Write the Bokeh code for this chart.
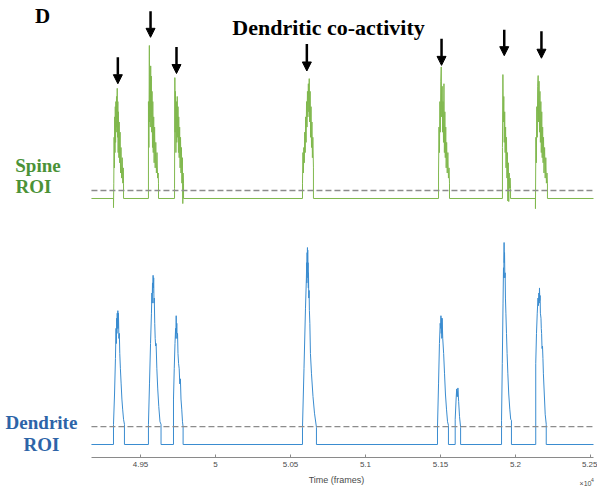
from bokeh.plotting import figure
from bokeh.models import Range1d, FixedTicker, Label, Arrow, NormalHead, ColumnDataSource
from bokeh.embed import file_html
from bokeh.resources import INLINE

# ---------------- data ----------------
x_min, x_max = 49173, 52520
tick_values = [49500, 50000, 50500, 51000, 51500, 52000, 52500]
tick_labels = ["4.95", "5", "5.05", "5.1", "5.15", "5.2", "5.25"]

spine_threshold = 0.157
dend_threshold = 0.356

# spine ROI trace (frame, value)
spine_trace = [
    (49173, 0),
    # event 1
    (49320, 0), (49320, -0.18), (49322, 0.3), (49324, 1.2), (49326, 0.6), (49328, 1.6), (49330, 0.9),
    (49332, 1.8), (49334, 1.1), (49336, 1.9), (49338, 1.3), (49340, 2.0), (49342, 1.4), (49345, 2.16),
    (49347, 1.2), (49349, 1.9), (49351, 0.9), (49353, 1.7), (49356, 0.8), (49358, 1.5), (49361, 0.7),
    (49364, 1.3), (49367, 0.5), (49370, 1.0), (49374, 0.4), (49378, 0.8), (49382, 0.3), (49385, 0.6),
    (49387, 0.3), (49387, 0),
    # event 2
    (49553, 0), (49553, 1.9), (49556, 1.0), (49559, 3.0), (49561, 1.5), (49563, 2.2), (49565, 1.4),
    (49568, 2.6), (49570, 1.6), (49572, 2.4), (49575, 1.3), (49577, 2.1), (49580, 1.0), (49582, 1.9),
    (49585, 0.9), (49588, 1.6), (49591, 0.7), (49594, 1.4), (49598, 0.6), (49602, 1.1), (49606, 0.5),
    (49610, 0.9), (49614, 0.4), (49618, 0.5), (49620, 0.3), (49620, 0),
    # event 3
    (49727, 0), (49727, 0.2), (49729, 2.37), (49731, 1.3), (49733, 2.1), (49736, 0.9), (49739, 1.9),
    (49742, 1.1), (49745, 2.0), (49748, 1.2), (49750, 1.8), (49753, 0.9), (49755, 1.6), (49758, 0.8),
    (49761, 1.4), (49764, 0.6), (49767, 1.2), (49770, 0.5), (49773, 1.0), (49776, 0.3), (49779, 0.8),
    (49782, -0.1), (49784, 0.5), (49787, 0.3), (49787, 0),
    # event 4
    (50580, 0), (50580, 0.3), (50583, 0.9), (50586, 0.5), (50589, 1.0), (50592, 0.7), (50595, 1.3),
    (50598, 0.9), (50601, 1.6), (50604, 1.1), (50607, 1.9), (50610, 1.4), (50613, 2.1), (50616, 1.6),
    (50619, 2.25), (50622, 1.7), (50625, 2.35), (50628, 1.5), (50631, 2.1), (50634, 1.2), (50637, 1.8),
    (50640, 1.0), (50643, 1.5), (50646, 0.8), (50649, 1.2), (50653, 0.6), (50653, 0),
    # event 5
    (51487, 0), (51487, 0.5), (51490, 1.4), (51493, 0.9), (51496, 1.9), (51499, 1.3), (51502, 2.3),
    (51505, 2.58), (51508, 1.6), (51511, 2.2), (51514, 1.3), (51517, 1.9), (51520, 1.1), (51523, 2.25),
    (51526, 0.9), (51529, 1.7), (51532, 0.8), (51535, 1.4), (51538, 0.6), (51541, 1.1), (51545, 0.5),
    (51549, 0.9), (51553, 0.4), (51557, 0.6), (51560, 0.3), (51560, 0),
    # event 6
    (51913, 0), (51913, 1.0), (51916, 2.43), (51919, 1.5), (51922, 2.0), (51925, 1.1), (51928, 1.7),
    (51931, 0.9), (51934, 1.4), (51937, 0.6), (51940, 1.2), (51943, 0.4), (51946, 0.9), (51949, -0.05),
    (51952, 0.7), (51955, -0.06), (51958, 0.5), (51961, 0.2), (51964, 0.4), (51967, 0.2), (51967, 0),
    # event 7
    (52133, 0), (52133, -0.2), (52136, 1.2), (52139, 0.7), (52142, 1.8), (52145, 1.2), (52148, 2.2),
    (52151, 2.41), (52154, 1.5), (52157, 2.3), (52160, 1.3), (52163, 2.1), (52166, 1.1), (52169, 1.9),
    (52172, 0.9), (52175, 1.7), (52178, 0.8), (52181, 1.4), (52184, 0.7), (52187, 1.2), (52190, 0.5),
    (52194, 1.0), (52198, 0.4), (52202, 0.8), (52206, 0.3), (52210, 0.5), (52213, 0.3), (52213, 0),
    (52520, 0),
]

# dendrite ROI trace (frame, value)
dend_trace = [
    (49173, 0),
    # event 1
    (49320, 0), (49320, 0.4), (49327, 1.0), (49333, 1.7), (49337, 2.3), (49339, 2.0), (49341, 2.5),
    (49343, 2.2), (49345, 2.6), (49347, 2.3), (49349, 2.65), (49351, 2.3), (49353, 2.6), (49356, 2.1),
    (49359, 2.2), (49362, 1.8), (49366, 1.5), (49371, 1.2), (49376, 0.9), (49381, 0.7), (49387, 0.5),
    (49393, 0.4), (49393, 0),
    # event 2
    (49553, 0), (49553, 0.4), (49560, 1.2), (49567, 2.0), (49573, 2.6), (49576, 3.0), (49578, 2.8),
    (49580, 3.2), (49582, 3.0), (49584, 3.35), (49586, 3.1), (49588, 3.3), (49590, 2.8), (49592, 2.9),
    (49595, 2.4), (49598, 2.1), (49601, 1.95), (49604, 2.0), (49609, 1.5), (49615, 1.1), (49622, 0.75),
    (49630, 0.45), (49637, 0.4), (49637, 0),
    # event 3
    (49720, 0), (49720, 0.9), (49725, 1.5), (49730, 2.0), (49734, 2.3), (49736, 2.1), (49738, 2.55),
    (49740, 2.2), (49742, 2.4), (49744, 2.1), (49747, 2.2), (49750, 1.8), (49754, 1.6), (49758, 1.5),
    (49762, 1.2), (49766, 1.3), (49770, 0.9), (49775, 0.7), (49780, 0.45), (49784, 0.35), (49784, 0),
    # event 4
    (50580, 0), (50580, 0.34), (50590, 1.5), (50600, 2.7), (50606, 3.3), (50608, 3.6), (50609, 3.2),
    (50611, 3.8), (50612, 3.4), (50613, 3.9), (50614, 3.5), (50615, 3.85), (50616, 3.3), (50617, 3.6),
    (50619, 3.1), (50620, 3.4), (50622, 2.9), (50624, 3.05), (50626, 2.65), (50629, 2.4), (50633, 1.8),
    (50640, 1.4), (50650, 0.95), (50660, 0.62), (50673, 0.34), (50673, 0),
    # event 5
    (51480, 0), (51480, 0.35), (51487, 1.2), (51493, 2.0), (51498, 2.4), (51501, 2.3), (51503, 2.55),
    (51505, 2.2), (51507, 2.5), (51509, 2.1), (51511, 2.5), (51515, 2.1), (51521, 1.8), (51527, 1.4),
    (51533, 1.0), (51540, 0.7), (51547, 0.45), (51553, 0.38), (51553, 0),
    # event 6
    (51598, 0), (51598, 0.5), (51604, 0.9), (51608, 1.1), (51610, 0.95), (51612, 1.05), (51614, 0.95),
    (51616, 1.12), (51621, 0.85), (51627, 0.55), (51634, 0.34), (51634, 0),
    # event 7
    (51907, 0), (51907, 0.48), (51912, 1.6), (51917, 2.8), (51920, 3.5), (51922, 3.3), (51924, 4.0),
    (51925, 3.6), (51927, 3.8), (51929, 3.3), (51931, 3.4), (51933, 2.9), (51936, 2.6), (51940, 2.2),
    (51944, 1.8), (51949, 1.4), (51955, 1.0), (51962, 0.7), (51968, 0.5), (51973, 0.48), (51973, 0),
    # event 8
    (52135, 0), (52135, 1.6), (52140, 2.2), (52145, 2.6), (52150, 2.9), (52153, 2.75), (52156, 3.0),
    (52158, 2.8), (52160, 3.1), (52162, 2.85), (52164, 2.95), (52166, 2.6), (52170, 2.5), (52172, 2.3),
    (52174, 2.2), (52177, 1.9), (52180, 1.95), (52183, 1.7), (52186, 1.4), (52192, 1.0), (52198, 0.6),
    (52205, 0.4), (52205, 0),
    (52520, 0),
]

# arrows marking co-active events (frame, top, tip) in spine units
arrow_x = [49349, 49567, 49740, 50609, 51507, 51925, 52173]
arrow_top = [2.77, 3.67, 2.97, 3.03, 3.13, 3.31, 3.28]
arrow_tip = [2.25, 3.16, 2.45, 2.50, 2.61, 2.80, 2.75]

spine_t = [a for a, b in spine_trace]
spine_v = [b for a, b in spine_trace]
dend_t = [a for a, b in dend_trace]
dend_v = [b for a, b in dend_trace]

# ---------------- figure ----------------
W, H = 597, 489

p = figure(width=W, height=H,
           x_range=Range1d(48566.7, 52546.7), y_range=Range1d(-0.891, 8.792),
           output_backend="svg", toolbar_location=None,
           min_border=0, min_border_left=0, min_border_right=0,
           min_border_top=0, min_border_bottom=0,
           y_axis_location=None)
p.extra_y_ranges = {"spine": Range1d(-5.706, 3.882)}
p.xgrid.visible = False
p.ygrid.visible = False
p.outline_line_color = None
p.background_fill_color = "white"
p.border_fill_color = "white"

ax = p.xaxis[0]
ax.fixed_location = -0.257
ax.bounds = (x_min, x_max)
ax.ticker = FixedTicker(ticks=tick_values)
ax.major_label_overrides = {v: l for v, l in zip(tick_values, tick_labels)}
ax.axis_line_color = "#8a8a8a"
ax.major_tick_line_color = "#8a8a8a"
ax.major_tick_in = 3
ax.major_tick_out = 0
ax.minor_tick_line_color = None
ax.major_label_standoff = 5
ax.major_label_text_font = "Liberation Sans"
ax.major_label_text_font_size = "8px"
ax.major_label_text_color = "#4a4a4a"

# traces
p.line(spine_t, spine_v, y_range_name="spine", line_color="#80b84e", line_width=1)
p.line(dend_t, dend_v, line_color="#3a8cd0", line_width=1)

# thresholds (drawn across the traced time window)
p.line([x_min, x_max], [spine_threshold, spine_threshold], y_range_name="spine",
       line_color="#8c8c8c", line_dash="6 3", line_width=1.3)
p.line([x_min, x_max], [dend_threshold, dend_threshold],
       line_color="#8c8c8c", line_dash="6 3", line_width=1.3)

# arrows
asrc = ColumnDataSource(dict(x=arrow_x, y0=arrow_top, y1=arrow_tip))
p.add_layout(Arrow(end=NormalHead(size=9, fill_color="black", line_color="black", line_width=1),
                   x_start="x", y_start="y0", x_end="x", y_end="y1", source=asrc,
                   line_color="black", line_width=2.5, y_range_name="spine"))


def lab(text, px, py, size, color="black", align="center", font="Liberation Serif",
        style="bold", baseline="middle"):
    p.add_layout(Label(x=px, y=H - py, x_units="screen", y_units="screen",
                       text=text, text_font=font, text_font_style=style,
                       text_font_size=f"{size}px", text_color=color,
                       text_align=align, text_baseline=baseline))


lab("Dendritic co-activity", 328, 27, 22)
lab("D", 42, 15, 21, baseline="alphabetic")
lab("Spine", 37.5, 165, 19, color="#4b9237")
lab("ROI", 33, 186, 19, color="#4b9237")
lab("Dendrite", 41, 422, 19, color="#2d64a8")
lab("ROI", 41, 444, 19, color="#2d64a8")
lab("Time (frames)", 336, 479, 9, color="#4a4a4a", font="Liberation Sans", style="normal")
lab("\u00d710", 585, 483, 7, color="#4a4a4a", font="Liberation Sans", style="normal")
lab("4", 592, 479, 5, color="#4a4a4a", font="Liberation Sans", style="normal")

open("out.html", "w").write(file_html(p, INLINE))
